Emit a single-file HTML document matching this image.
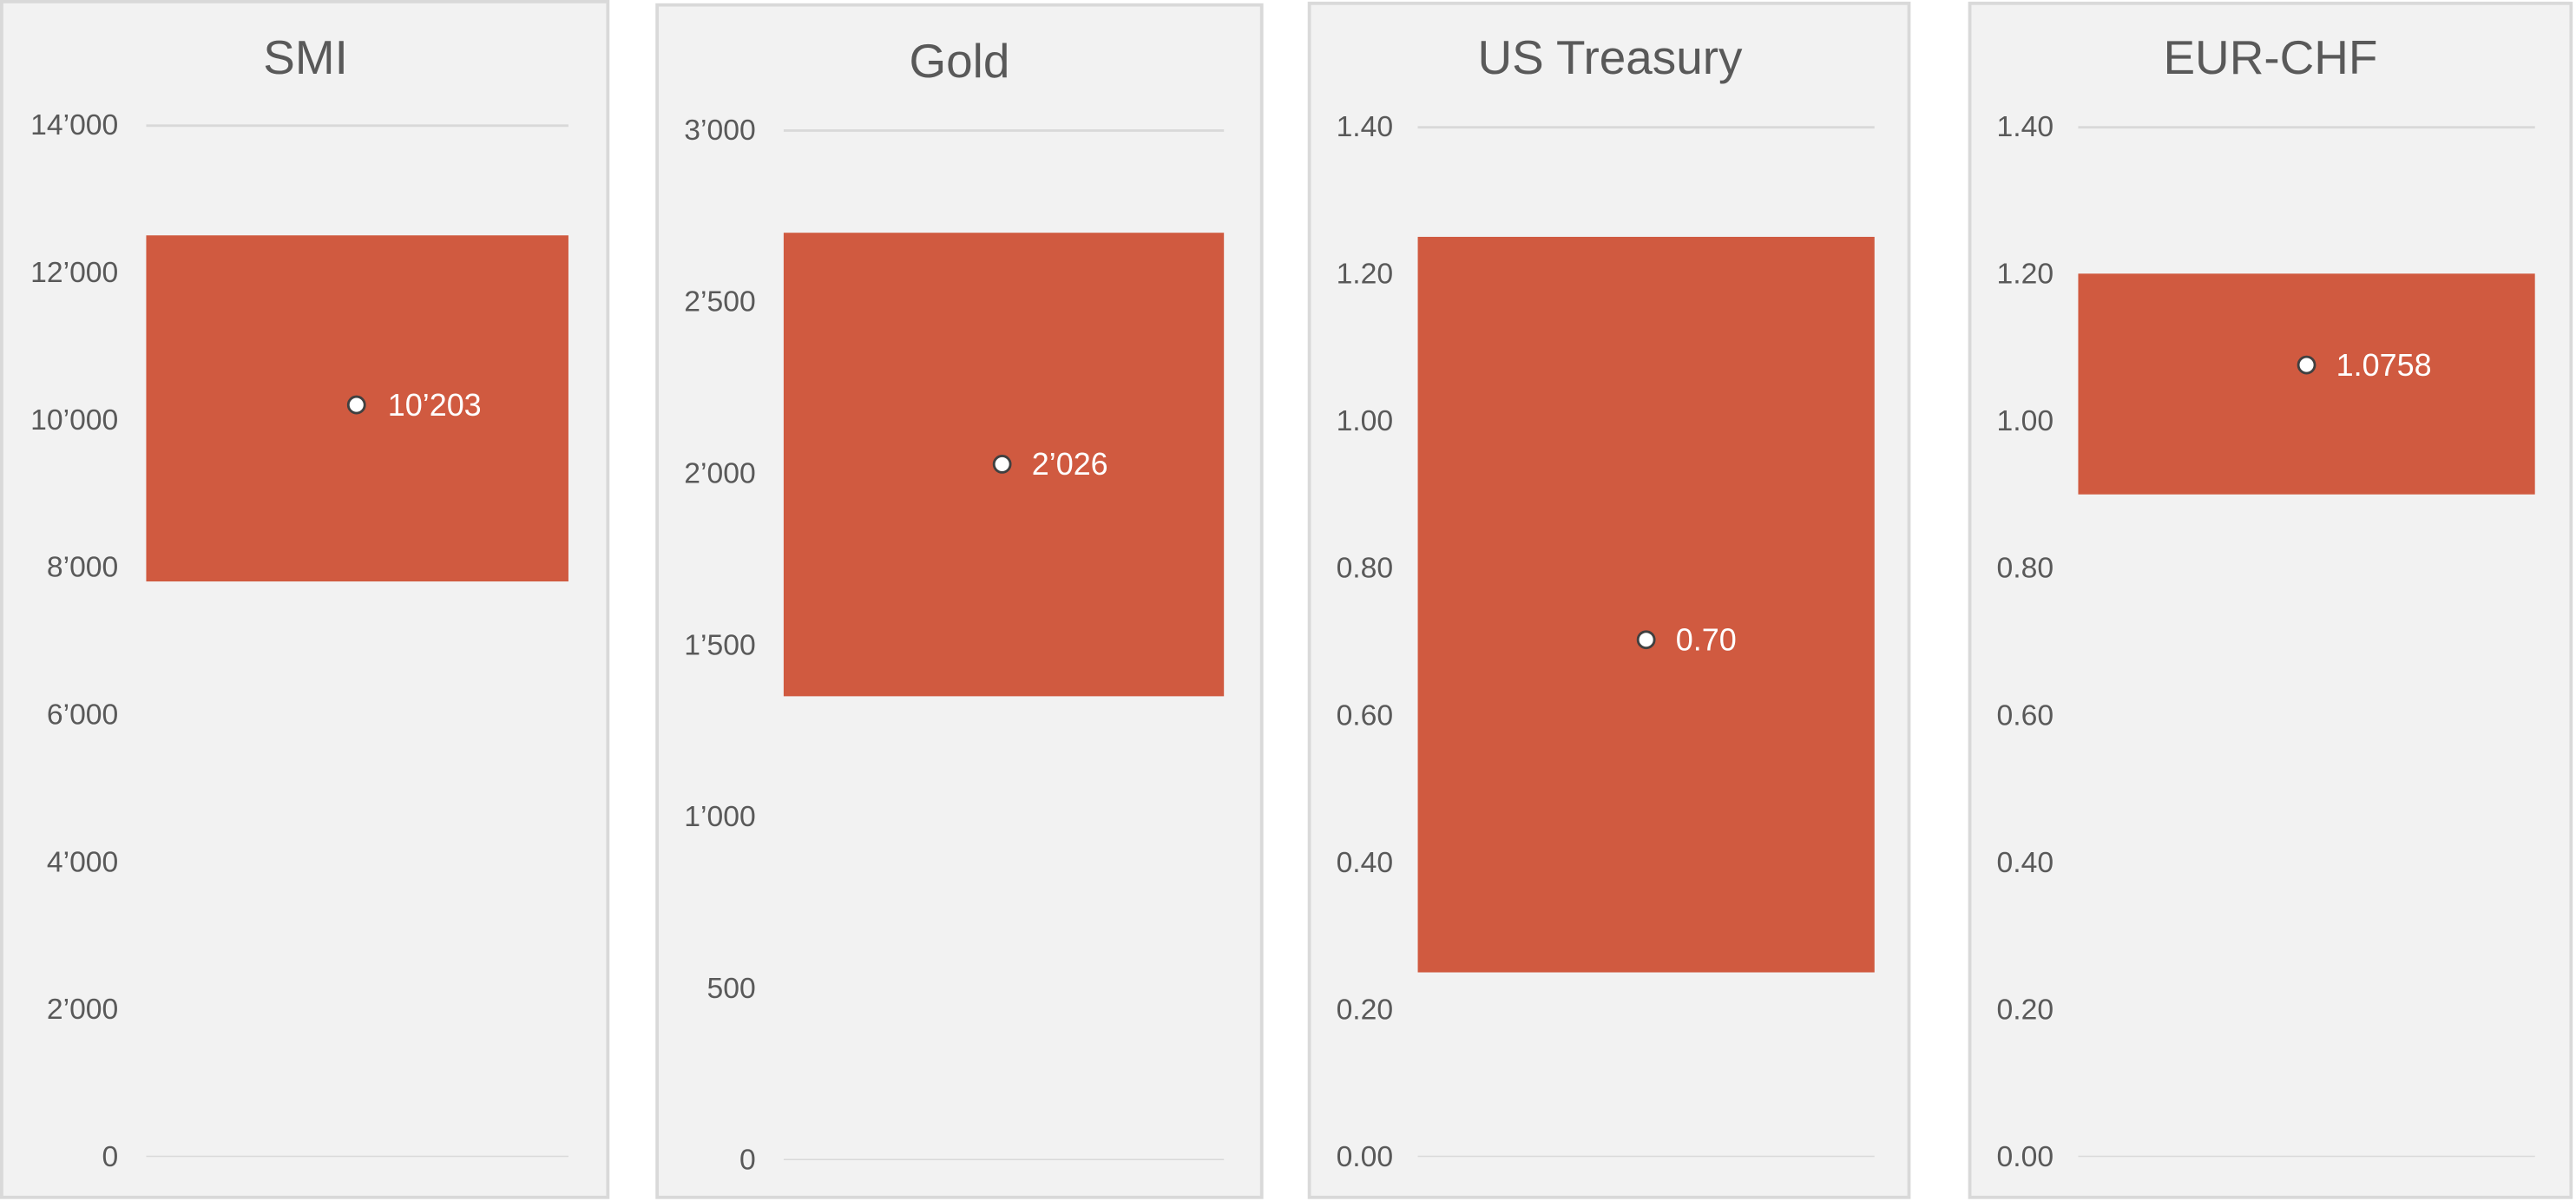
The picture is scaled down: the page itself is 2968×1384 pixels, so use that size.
<!DOCTYPE html>
<html><head><meta charset="utf-8"><style>
html,body{margin:0;padding:0;background:#fff;}
svg{display:block;}
text{font-family:"Liberation Sans",Arial,sans-serif;fill:#595959;}
.t{font-size:17.8px;text-anchor:end;}
.h{font-size:29px;text-anchor:middle;}
.v{font-size:19px;fill:#fff;}
</style></head><body>
<svg width="2968" height="1384" viewBox="0 0 1568 731.2" preserveAspectRatio="none" xmlns="http://www.w3.org/2000/svg">
<rect width="1568" height="732" fill="#fff"/>
<!-- SMI -->
<rect x="1" y="1" width="369" height="728" fill="#f2f2f2" stroke="#d9d9d9" stroke-width="2"/>
<text class="h" x="186" y="45">SMI</text>
<line x1="89" x2="346" y1="76.5" y2="76.5" stroke="#d9d9d9" stroke-width="1.5"/>
<line x1="89" x2="346" y1="704" y2="704" stroke="#d9d9d9" stroke-width="0.8"/>
<text class="t" x="72" y="82">14’000</text><text class="t" x="72" y="171.7">12’000</text><text class="t" x="72" y="261.4">10’000</text><text class="t" x="72" y="351.1">8’000</text><text class="t" x="72" y="440.9">6’000</text><text class="t" x="72" y="530.6">4’000</text><text class="t" x="72" y="620.3">2’000</text><text class="t" x="72" y="710">0</text>
<rect x="89" y="143.3" width="257" height="210.7" fill="#d05a40"/>
<circle cx="217" cy="246.5" r="5" fill="#fff" stroke="#404040" stroke-width="1.5"/>
<text class="v" x="236" y="253">10’203</text>
<!-- Gold -->
<rect x="400" y="3" width="368" height="726" fill="#f2f2f2" stroke="#d9d9d9" stroke-width="2"/>
<text class="h" x="584" y="47">Gold</text>
<line x1="477" x2="745" y1="79.5" y2="79.5" stroke="#d9d9d9" stroke-width="1.5"/>
<line x1="477" x2="745" y1="706" y2="706" stroke="#d9d9d9" stroke-width="0.8"/>
<text class="t" x="460" y="85">3’000</text><text class="t" x="460" y="189.5">2’500</text><text class="t" x="460" y="294">2’000</text><text class="t" x="460" y="398.5">1’500</text><text class="t" x="460" y="503">1’000</text><text class="t" x="460" y="607.5">500</text><text class="t" x="460" y="712">0</text>
<rect x="477" y="141.7" width="268" height="282.2" fill="#d05a40"/>
<circle cx="610" cy="282.6" r="5" fill="#fff" stroke="#404040" stroke-width="1.5"/>
<text class="v" x="628" y="289">2’026</text>
<!-- US Treasury -->
<rect x="797" y="2" width="365" height="727" fill="#f2f2f2" stroke="#d9d9d9" stroke-width="2"/>
<text class="h" x="980" y="45">US Treasury</text>
<line x1="863" x2="1141" y1="77.5" y2="77.5" stroke="#d9d9d9" stroke-width="1.5"/>
<line x1="863" x2="1141" y1="704" y2="704" stroke="#d9d9d9" stroke-width="0.8"/>
<text class="t" x="848" y="83">1.40</text><text class="t" x="848" y="172.6">1.20</text><text class="t" x="848" y="262.1">1.00</text><text class="t" x="848" y="351.7">0.80</text><text class="t" x="848" y="441.3">0.60</text><text class="t" x="848" y="530.9">0.40</text><text class="t" x="848" y="620.4">0.20</text><text class="t" x="848" y="710">0.00</text>
<rect x="863" y="144.2" width="278" height="447.8" fill="#d05a40"/>
<circle cx="1002" cy="389.5" r="5" fill="#fff" stroke="#404040" stroke-width="1.5"/>
<text class="v" x="1020" y="396">0.70</text>
<!-- EUR-CHF -->
<rect x="1199" y="2" width="366" height="727" fill="#f2f2f2" stroke="#d9d9d9" stroke-width="2"/>
<text class="h" x="1382" y="45">EUR-CHF</text>
<line x1="1265" x2="1543" y1="77.5" y2="77.5" stroke="#d9d9d9" stroke-width="1.5"/>
<line x1="1265" x2="1543" y1="704" y2="704" stroke="#d9d9d9" stroke-width="0.8"/>
<text class="t" x="1250" y="83">1.40</text><text class="t" x="1250" y="172.6">1.20</text><text class="t" x="1250" y="262.1">1.00</text><text class="t" x="1250" y="351.7">0.80</text><text class="t" x="1250" y="441.3">0.60</text><text class="t" x="1250" y="530.9">0.40</text><text class="t" x="1250" y="620.4">0.20</text><text class="t" x="1250" y="710">0.00</text>
<rect x="1265" y="166.6" width="278" height="134.4" fill="#d05a40"/>
<circle cx="1404" cy="222.2" r="5" fill="#fff" stroke="#404040" stroke-width="1.5"/>
<text class="v" x="1422" y="228.7">1.0758</text>
</svg>
</body></html>
